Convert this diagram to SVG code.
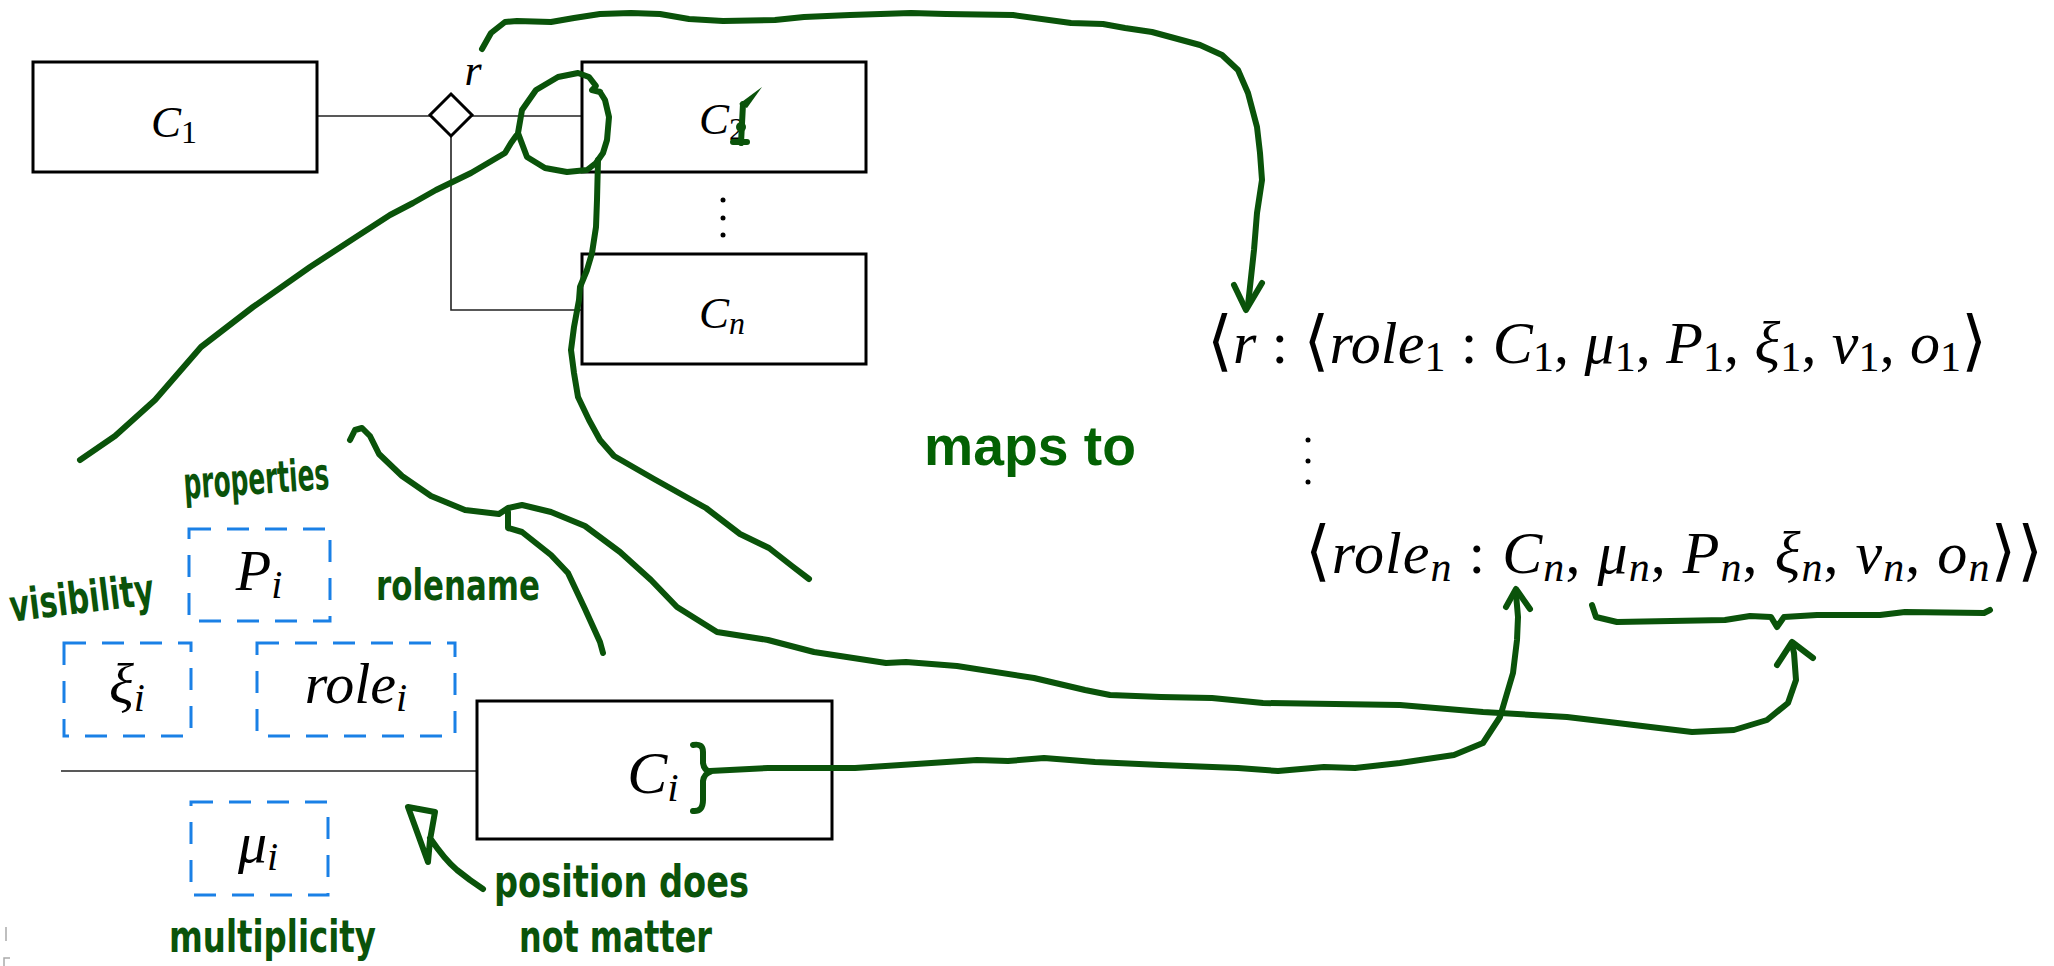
<svg xmlns="http://www.w3.org/2000/svg" width="2054" height="966" viewBox="0 0 2054 966">
<style>
.box{fill:none;stroke:#000;stroke-width:3}
.conn{fill:none;stroke:#222;stroke-width:1.6}
.dbox{fill:none;stroke:#1a80e6;stroke-width:3;stroke-dasharray:22 16}
.m{font-family:"Liberation Serif","DejaVu Serif",serif;fill:#000}
.i{font-style:italic}
.br{font-family:"DejaVu Serif",serif;font-size:66px;font-style:normal}
.g{fill:none;stroke:#0a530a;stroke-width:6;stroke-linecap:round;stroke-linejoin:round}
.hw{font-family:"DejaVu Sans Condensed","DejaVu Sans",sans-serif;font-weight:bold;fill:#0a530a}
.maps{font-family:"Liberation Sans",Arial,sans-serif;font-weight:bold;fill:#036103;font-size:55px}
</style>
<rect width="2054" height="966" fill="#fff"/>

<g id="connectors">
<line class="conn" x1="317" y1="116" x2="430" y2="116"/>
<line class="conn" x1="472" y1="116" x2="582" y2="116"/>
<polyline class="conn" points="451,136 451,310 582,310"/>
<line class="conn" x1="61" y1="771" x2="477" y2="771"/>
</g>

<g id="c1"><rect class="box" x="33" y="62" width="284" height="110"/>
<text class="m" x="174" y="137" font-size="45" text-anchor="middle"><tspan class="i">C</tspan><tspan font-size="32" dy="6">1</tspan></text></g>
<g id="c2"><rect class="box" x="582" y="62" width="284" height="110"/>
<text class="m" x="722" y="134" font-size="45" text-anchor="middle"><tspan class="i">C</tspan><tspan font-size="32" dy="6">2</tspan></text></g>
<g id="dots-c"><circle cx="723" cy="200" r="2.5"/><circle cx="723" cy="218" r="2.5"/><circle cx="723" cy="235" r="2.5"/></g>
<g id="cn"><rect class="box" x="582" y="254" width="284" height="110"/>
<text class="m" x="722" y="328" font-size="45" text-anchor="middle"><tspan class="i">C</tspan><tspan class="i" font-size="32" dy="6">n</tspan></text></g>
<g id="r"><polygon points="451,94 472,115 451,136 430,115" fill="#fff" stroke="#000" stroke-width="3"/>
<text class="m i" x="473" y="85" font-size="44" text-anchor="middle">r</text></g>

<g id="pi"><rect class="dbox" x="189" y="529" width="141" height="92"/>
<text class="m" x="259" y="590" font-size="58" text-anchor="middle"><tspan class="i">P</tspan><tspan class="i" font-size="40" dy="8">i</tspan></text></g>
<g id="xii"><rect class="dbox" x="64" y="643" width="127" height="93"/>
<text class="m" x="127" y="703" font-size="58" text-anchor="middle"><tspan class="i">ξ</tspan><tspan class="i" font-size="40" dy="8">i</tspan></text></g>
<g id="rolei"><rect class="dbox" x="257" y="643" width="198" height="93"/>
<text class="m" x="356" y="703" font-size="58" text-anchor="middle"><tspan class="i">role</tspan><tspan class="i" font-size="40" dy="8">i</tspan></text></g>
<g id="mui"><rect class="dbox" x="191" y="802" width="137" height="93"/>
<text class="m" x="258" y="862" font-size="58" text-anchor="middle"><tspan class="i">μ</tspan><tspan class="i" font-size="40" dy="8">i</tspan></text></g>
<g id="ci"><rect class="box" x="477" y="701" width="355" height="138"/>
<text class="m" x="653" y="793" font-size="60" text-anchor="middle"><tspan class="i">C</tspan><tspan class="i" font-size="41" dy="8">i</tspan></text></g>

<g id="formula">
<text class="m" x="1207" y="363" font-size="60" textLength="780" lengthAdjust="spacing"><tspan class="br">⟨</tspan><tspan class="i">r</tspan> : <tspan class="br">⟨</tspan><tspan class="i">role</tspan><tspan font-size="42" dy="8">1</tspan><tspan dy="-8"> : </tspan><tspan class="i">C</tspan><tspan font-size="42" dy="8">1</tspan><tspan dy="-8">, </tspan><tspan class="i">μ</tspan><tspan font-size="42" dy="8">1</tspan><tspan dy="-8">, </tspan><tspan class="i">P</tspan><tspan font-size="42" dy="8">1</tspan><tspan dy="-8">, </tspan><tspan class="i">ξ</tspan><tspan font-size="42" dy="8">1</tspan><tspan dy="-8">, </tspan><tspan class="i">ν</tspan><tspan font-size="42" dy="8">1</tspan><tspan dy="-8">, </tspan><tspan class="i">o</tspan><tspan font-size="42" dy="8">1</tspan><tspan class="br" dy="-8">⟩</tspan></text>
<circle cx="1308" cy="440" r="2.5"/><circle cx="1308" cy="461" r="2.5"/><circle cx="1308" cy="482" r="2.5"/>
<text class="m" x="1305" y="573" font-size="60" textLength="738" lengthAdjust="spacing"><tspan class="br">⟨</tspan><tspan class="i">role</tspan><tspan class="i" font-size="42" dy="8">n</tspan><tspan dy="-8"> : </tspan><tspan class="i">C</tspan><tspan class="i" font-size="42" dy="8">n</tspan><tspan dy="-8">, </tspan><tspan class="i">μ</tspan><tspan class="i" font-size="42" dy="8">n</tspan><tspan dy="-8">, </tspan><tspan class="i">P</tspan><tspan class="i" font-size="42" dy="8">n</tspan><tspan dy="-8">, </tspan><tspan class="i">ξ</tspan><tspan class="i" font-size="42" dy="8">n</tspan><tspan dy="-8">, </tspan><tspan class="i">ν</tspan><tspan class="i" font-size="42" dy="8">n</tspan><tspan dy="-8">, </tspan><tspan class="i">o</tspan><tspan class="i" font-size="42" dy="8">n</tspan><tspan class="br" dy="-8">⟩⟩</tspan></text>
</g>

<g id="maps-to"><text class="maps" x="924" y="465" textLength="212" lengthAdjust="spacingAndGlyphs">maps to</text></g>

<g id="annotations">
<text class="hw" x="184" y="494" font-size="44" textLength="146" lengthAdjust="spacingAndGlyphs" transform="rotate(-4 257 490)">properties</text>
<text class="hw" x="10" y="613" font-size="44" textLength="145" lengthAdjust="spacingAndGlyphs" transform="rotate(-7 82 605)">visibility</text>
<text class="hw" x="376" y="600" font-size="42" textLength="164" lengthAdjust="spacingAndGlyphs">rolename</text>
<text class="hw" x="169" y="952" font-size="44" textLength="207" lengthAdjust="spacingAndGlyphs">multiplicity</text>
<text class="hw" x="494" y="897" font-size="44" textLength="255" lengthAdjust="spacingAndGlyphs">position  does</text>
<text class="hw" x="519" y="952" font-size="44" textLength="193" lengthAdjust="spacingAndGlyphs">not matter</text>
</g>

<g id="strokes">
<path class="g" d="M482,49 L491,33 L505,22 L517,21 L551,22 L574,18 L600,14 L631,13 L660,14 L689,19 L723,21 L775,20 L804,17 L850,15 L911,13 L946,14 L1013,15 L1071,23 L1103,24 L1125,28 L1152,32 L1200,45 L1222,55 L1238,70 L1248,93 L1257,127 L1260,153 L1262,180 L1257,213 L1254,250 L1248,305"/>
<path class="g" d="M1234,285 L1246,310 L1262,283"/>
<path class="g" d="M600,92 L592,90 L596,86 L589,77 L578,73 L558,77 L536,90 L522,110 L518,133 L527,157 L545,168 L567,172 L587,170 L596,163 L603,153 L607,140 L609,117 L605,100 L600,92"/>
<path class="g" d="M598,160 L597,200 L596,227 L592,253 L587,270 L580,287 L579,300 L574,327 L571,350 L574,373 L578,397 L589,420 L600,440 L614,456 L654,479 L706,508 L740,534 L769,548 L792,566 L809,579"/>
<path class="g" d="M516,136 L511,143 L505,153 L488,163 L471,173 L436,190 L413,203 L390,215 L356,237 L310,267 L253,307 L201,347 L155,400 L115,436 L80,460"/>
<path class="g" d="M350,440 L355,430 L362,428 L370,436 L379,454 L402,476 L431,496 L465,510 L499,514 L508,508 L522,505 L551,512 L585,526 L620,552 L651,580 L677,607 L717,632 L768,640 L814,652 L886,663 L906,662 L957,666 L1034,678 L1085,690 L1110,695 L1161,697 L1212,698 L1263,703 L1400,705 L1483,712 L1567,717 L1609,722 L1692,732 L1734,730 L1767,720 L1788,703 L1796,680 L1794,653 L1792,645"/>
<path class="g" d="M1777,665 L1792,642 L1813,658"/>
<path class="g" d="M508,512 L508,528 L522,532 L551,555 L568,573 L585,609 L600,642 L603,653"/>
<path class="g" d="M693,745 Q703,743 703,752 L703,763 Q704,770 710,772 Q704,774 703,781 L703,800 Q703,812 693,811"/>
<path class="g" d="M710,771 L768,768 L855,768 L977,760 L1008,761 L1044,758 L1095,762 L1161,765 L1238,768 L1278,771 L1324,767 L1355,768 L1400,763 L1454,755 L1483,743 L1500,717 L1513,673 L1517,640 L1518,617 L1516,594"/>
<path class="g" d="M1506,607 L1516,589 L1530,609"/>
<path class="g" d="M1592,605 L1596,617 L1617,622 L1725,620 L1750,616 L1771,617 L1777,627 L1784,617 L1817,615 L1880,615 L1905,612 L1984,613 L1990,610"/>
<path class="g" d="M408,807 L435,812 L430,840 L428,862 Z M430,838 Q445,860 457,870 L470,880 L483,889"/>
<path class="g" d="M741,143 L743,104 M733,142 L747,142"/>
<path d="M739,104 L762,87 L747,108 Z" fill="#0a530a"/>
<circle cx="741" cy="127" r="5" fill="#0a530a"/>
</g>
<g id="edge-marks" stroke="#aaa" stroke-width="1.5" fill="none"><line x1="6" y1="927" x2="6" y2="941"/><path d="M10,958 L4,958 L4,966"/></g>
</svg>
